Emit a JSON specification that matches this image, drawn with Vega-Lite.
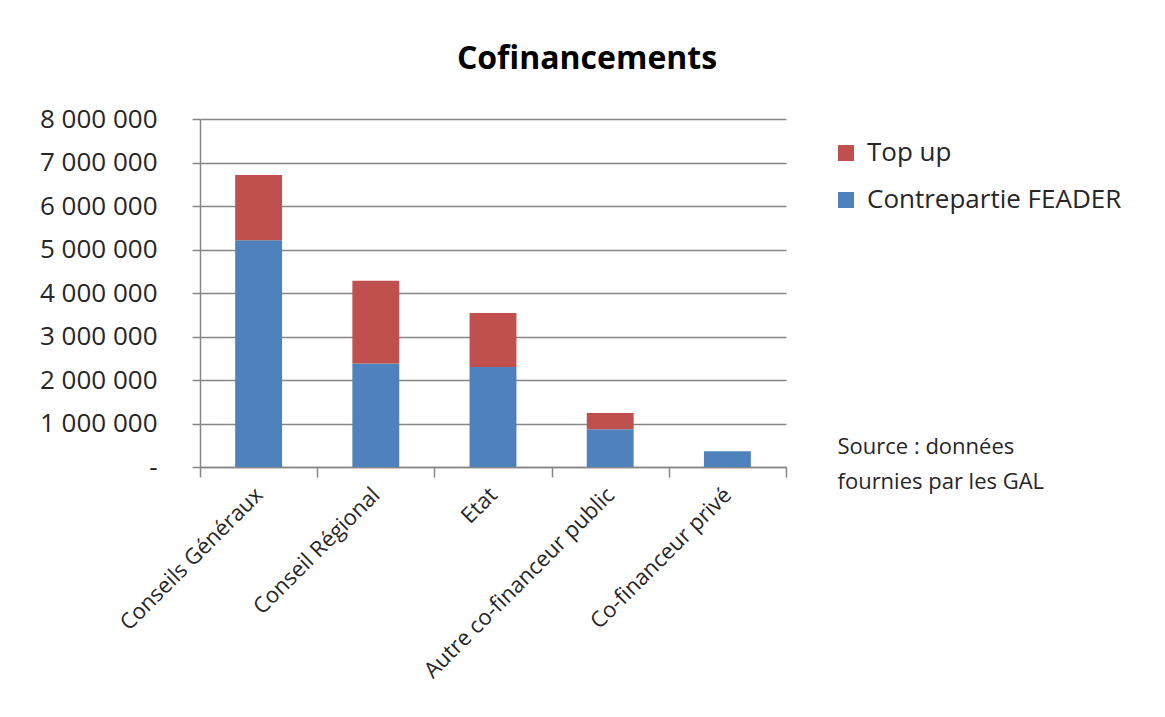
{
  "$schema": "https://vega.github.io/schema/vega-lite/v6.json",
  "width": 586,
  "height": 348,
  "autosize": "none",
  "padding": {"left": 200, "top": 119, "right": 379, "bottom": 250},
  "background": "white",
  "config": {
    "view": {"stroke": null},
    "font": "Open Sans"
  },
  "title": {
    "text": "Cofinancements",
    "font": "Open Sans",
    "fontSize": 32,
    "fontWeight": "bold",
    "color": "#000000",
    "anchor": "middle",
    "frame": "group",
    "baseline": "alphabetic",
    "dx": 94,
    "offset": 5
  },
  "data": {
    "values": [
      {"financeur": "Conseils Généraux", "serie": "Contrepartie FEADER", "montant": 5210000},
      {"financeur": "Conseils Généraux", "serie": "Top up", "montant": 1500000},
      {"financeur": "Conseil Régional", "serie": "Contrepartie FEADER", "montant": 2380000},
      {"financeur": "Conseil Régional", "serie": "Top up", "montant": 1900000},
      {"financeur": "Etat", "serie": "Contrepartie FEADER", "montant": 2300000},
      {"financeur": "Etat", "serie": "Top up", "montant": 1240000},
      {"financeur": "Autre co-financeur public", "serie": "Contrepartie FEADER", "montant": 870000},
      {"financeur": "Autre co-financeur public", "serie": "Top up", "montant": 370000},
      {"financeur": "Co-financeur privé", "serie": "Contrepartie FEADER", "montant": 360000},
      {"financeur": "Co-financeur privé", "serie": "Top up", "montant": 0}
    ]
  },
  "mark": {"type": "bar", "width": {"band": 0.4}},
  "encoding": {
    "x": {
      "field": "financeur",
      "type": "nominal",
      "sort": null,
      "scale": {"paddingInner": 0, "paddingOuter": 0},
      "axis": {
        "tickBand": "extent",
        "tickSize": 10,
        "tickColor": "#868686",
        "domainColor": "#868686",
        "domainWidth": 1.5,
        "tickWidth": 1.5,
        "labelAngle": -45,
        "labelAlign": "right",
        "labelBaseline": "middle",
        "labelPadding": 14,
        "labelFontSize": 22,
        "labelLimit": 500,
        "labelColor": "#262626",
        "labelFont": "Open Sans",
        "title": ["Source : données", "fournies par les GAL"],
        "titleAngle": 0,
        "titleAlign": "left",
        "titleX": 637,
        "titleY": -14,
        "titleBaseline": "alphabetic",
        "titleFont": "Open Sans",
        "titleFontSize": 22,
        "titleFontWeight": "normal",
        "titleLineHeight": 35,
        "titleColor": "#262626",
        "titleLimit": 500
      }
    },
    "y": {
      "field": "montant",
      "type": "quantitative",
      "stack": "zero",
      "scale": {"domain": [0, 8000000], "nice": false},
      "axis": {
        "values": [0, 1000000, 2000000, 3000000, 4000000, 5000000, 6000000, 7000000, 8000000],
        "labelExpr": "datum.value === 0 ? '-' : replace(format(datum.value, ',d'), regexp(',', 'g'), ' ')",
        "grid": true,
        "gridColor": "#868686",
        "gridWidth": 1.5,
        "domainColor": "#868686",
        "domainWidth": 1.5,
        "tickColor": "#868686",
        "tickWidth": 1.5,
        "tickSize": 8,
        "labelFontSize": 26,
        "labelFont": "Open Sans",
        "labelColor": "#262626",
        "labelPadding": 35,
        "labelLimit": 300,
        "title": null
      }
    },
    "color": {
      "field": "serie",
      "type": "nominal",
      "scale": {"domain": ["Top up", "Contrepartie FEADER"], "range": ["#C0504D", "#4F81BD"]},
      "legend": {
        "orient": "none",
        "legendX": 633,
        "legendY": 21,
        "title": null,
        "padding": 0,
        "symbolType": "square",
        "symbolSize": 256,
        "symbolStrokeWidth": 0,
        "labelFontSize": 26,
        "labelFont": "Open Sans",
        "labelColor": "#262626",
        "labelOffset": 8,
        "labelLimit": 400,
        "rowPadding": 21
      }
    },
    "order": {"field": "serie", "sort": "ascending"}
  }
}
